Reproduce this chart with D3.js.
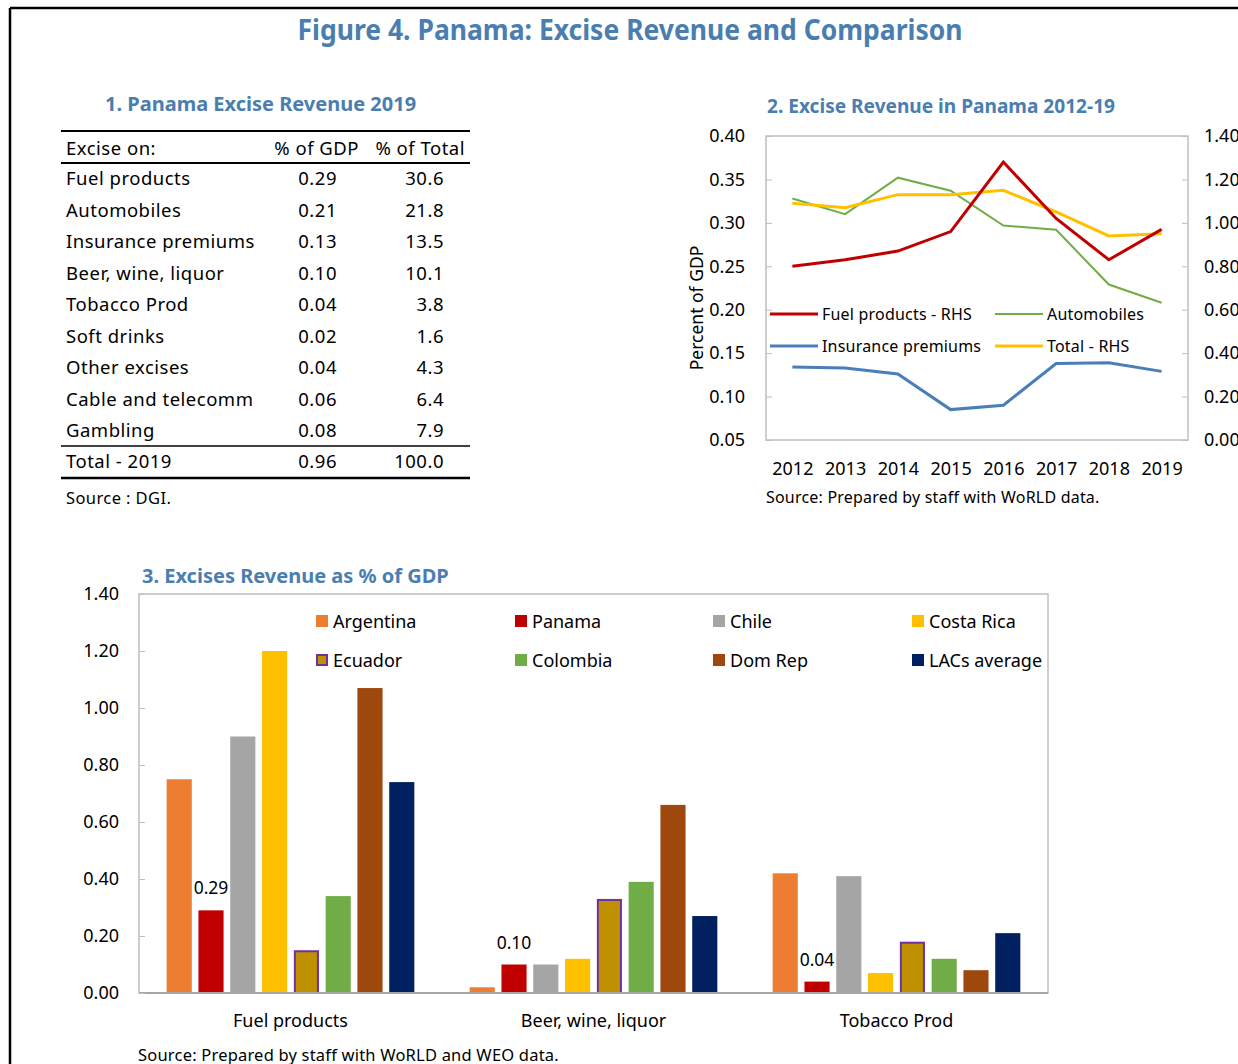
<!DOCTYPE html>
<html>
<head>
<meta charset="utf-8">
<script src="https://cdn.jsdelivr.net/npm/d3@7"></script>
<style>
  html, body { margin: 0; padding: 0; background: #fff; }
  svg { display: block; }
  text { font-family: "Noto Sans", "Open Sans", sans-serif; }
</style>
</head>
<body>
<svg id="chart" width="1238" height="1064"></svg>
<script>
// ---------- DATA ----------
// Panel 1: table
const tableItems = ["Fuel products", "Automobiles", "Insurance premiums", "Beer, wine, liquor",
  "Tobacco Prod", "Soft drinks", "Other excises", "Cable and telecomm", "Gambling"];
const tableGdp   = ["0.29", "0.21", "0.13", "0.10", "0.04", "0.02", "0.04", "0.06", "0.08"];
const tableShare = ["30.6", "21.8", "13.5", "10.1", "3.8", "1.6", "4.3", "6.4", "7.9"];
const tableTotal = ["Total - 2019", "0.96", "100.0"];

// Panel 2: lines 2012-19
const years        = ["2012", "2013", "2014", "2015", "2016", "2017", "2018", "2019"];
const fuelRHS      = [0.80, 0.83, 0.87, 0.96, 1.28, 1.02, 0.83, 0.97];
const automobiles  = [0.328, 0.310, 0.352, 0.337, 0.297, 0.292, 0.229, 0.208];
const insurance    = [0.134, 0.133, 0.126, 0.085, 0.090, 0.138, 0.139, 0.129];
const totalRHS     = [1.09, 1.07, 1.13, 1.13, 1.15, 1.05, 0.94, 0.95];
const leftTicks    = [0.05, 0.10, 0.15, 0.20, 0.25, 0.30, 0.35, 0.40];
const rightTicks   = [0.00, 0.20, 0.40, 0.60, 0.80, 1.00, 1.20, 1.40];

// Panel 3: bars
const barCategories = ["Fuel products", "Beer, wine, liquor", "Tobacco Prod"];
const countries     = ["Argentina", "Panama", "Chile", "Costa Rica", "Ecuador", "Colombia", "Dom Rep", "LACs average"];
const argentina = [0.75, 0.02, 0.42];
const panama    = [0.29, 0.10, 0.04];
const chile     = [0.90, 0.10, 0.41];
const costaRica = [1.20, 0.12, 0.07];
const ecuador   = [0.15, 0.33, 0.18];
const colombia  = [0.34, 0.39, 0.12];
const domRep    = [1.07, 0.66, 0.08];
const lacAvg    = [0.74, 0.27, 0.21];
const barTicks  = [0, 0.2, 0.4, 0.6, 0.8, 1.0, 1.2, 1.4];

// ---------- STYLE ----------
const titleBlue = "#4A7EB0";
const countryColors = ["#ED7D31", "#C00000", "#A5A5A5", "#FFC000", "#BF9000", "#70AD47", "#9E480E", "#002060"];

const svg = d3.select("#chart");

function fitText(sel, target) {
  const node = sel.node();
  const w = node.getComputedTextLength();
  if (w > target) sel.attr("textLength", target).attr("lengthAdjust", "spacingAndGlyphs");
  return sel;
}

// Frame
svg.append("line").attr("x1", 10).attr("y1", 8).attr("x2", 1238).attr("y2", 8).attr("stroke", "#000").attr("stroke-width", 2.5);
svg.append("line").attr("x1", 10).attr("y1", 8).attr("x2", 10).attr("y2", 1064).attr("stroke", "#000").attr("stroke-width", 2.5);

// Main title
fitText(svg.append("text").attr("x", 630).attr("y", 40).attr("text-anchor", "middle")
  .attr("font-size", 28).attr("font-weight", "bold").attr("fill", titleBlue)
  .text("Figure 4. Panama: Excise Revenue and Comparison"), 665);

// ---------- Panel 1: table ----------
const p1 = svg.append("g");
fitText(p1.append("text").attr("x", 105).attr("y", 111).attr("font-size", 20).attr("font-weight", "bold")
  .attr("fill", titleBlue).text("1. Panama Excise Revenue 2019"), 315);

const tx0 = 61, tx1 = 470;
[[131, 2], [163, 2], [446, 1.5], [478, 2.5]].forEach(([y, w]) => {
  p1.append("line").attr("x1", tx0).attr("x2", tx1).attr("y1", y).attr("y2", y)
    .attr("stroke", "#000").attr("stroke-width", w);
});
const fs1 = 18.5, ls1 = 0.5;
const t1 = (x, y, s, anchor) => p1.append("text").attr("x", x).attr("y", y).attr("font-size", fs1)
  .attr("letter-spacing", ls1).attr("text-anchor", anchor || "start").text(s);
t1(66, 155, "Excise on:");
t1(359, 155, "% of GDP", "end");
t1(465, 155, "% of Total", "end");

const rowY = d3.scaleLinear().domain([0, 1]).range([185, 216.5]);
tableItems.forEach((name, i) => {
  const y = rowY(i);
  t1(66, y, name);
  t1(337, y, tableGdp[i], "end");
  t1(444, y, tableShare[i], "end");
});
t1(66, 468, tableTotal[0]);
t1(337, 468, tableTotal[1], "end");
t1(444, 468, tableTotal[2], "end");
p1.append("text").attr("x", 66).attr("y", 504).attr("font-size", 16.5).attr("letter-spacing", 0.4).text("Source : DGI.");

// ---------- Panel 2: line chart ----------
const p2 = svg.append("g");
fitText(p2.append("text").attr("x", 767).attr("y", 113).attr("font-size", 19.5).attr("font-weight", "bold")
  .attr("fill", titleBlue).text("2. Excise Revenue in Panama 2012-19"), 348);

const L = { x0: 766, x1: 1188, y0: 136, y1: 440 };
const xL = d3.scalePoint().domain(years).range([L.x0, L.x1]).padding(0.5);
const yLeft = d3.scaleLinear().domain([0.05, 0.40]).range([L.y1, L.y0]);
const yRight = d3.scaleLinear().domain([0, 1.40]).range([L.y1, L.y0]);

p2.append("rect").attr("x", L.x0).attr("y", L.y0).attr("width", L.x1 - L.x0).attr("height", L.y1 - L.y0)
  .attr("fill", "none").attr("stroke", "#BFBFBF").attr("stroke-width", 1.5);

const axL = p2.append("g").attr("transform", `translate(${L.x0},0)`)
  .call(d3.axisLeft(yLeft).tickValues(leftTicks).tickFormat(d3.format(".2f")).tickSizeInner(-6).tickSizeOuter(0).tickPadding(21));
const axR = p2.append("g").attr("transform", `translate(${L.x1},0)`)
  .call(d3.axisRight(yRight).tickValues(rightTicks).tickFormat(d3.format(".2f")).tickSizeInner(-6).tickSizeOuter(0).tickPadding(16));
const axB = p2.append("g").attr("transform", `translate(0,${L.y1})`)
  .call(d3.axisBottom(xL).tickSize(0).tickPadding(22));
[axL, axR, axB].forEach(a => {
  a.select(".domain").remove();
  a.selectAll(".tick line").attr("stroke", "#BFBFBF");
  a.selectAll("text").attr("font-size", 18).attr("fill", "#000").attr("font-family", '"Noto Sans", sans-serif');
});
axB.selectAll("text").attr("font-size", 18);

p2.append("text").attr("transform", `translate(703,${(L.y0 + L.y1) / 2 + 20}) rotate(-90)`)
  .attr("text-anchor", "middle").attr("font-size", 17.5).text("Percent of GDP");

const lineSeries = [
  { name: "Automobiles", vals: automobiles, scale: yLeft, color: "#70AD47", w: 2 },
  { name: "Insurance premiums", vals: insurance, scale: yLeft, color: "#4A7EBB", w: 3 },
  { name: "Total - RHS", vals: totalRHS, scale: yRight, color: "#FFC000", w: 3 },
  { name: "Fuel products - RHS", vals: fuelRHS, scale: yRight, color: "#C00000", w: 3 }
];
lineSeries.forEach(s => {
  const line = d3.line().x((d, i) => xL(years[i])).y(d => s.scale(d));
  p2.append("path").datum(s.vals).attr("d", line).attr("fill", "none")
    .attr("stroke", s.color).attr("stroke-width", s.w).attr("stroke-linejoin", "miter");
});

// legend
const legL = [
  { name: "Fuel products - RHS", color: "#C00000", w: 3, x: 770, y: 314 },
  { name: "Automobiles", color: "#70AD47", w: 2, x: 995, y: 314 },
  { name: "Insurance premiums", color: "#4A7EBB", w: 3, x: 770, y: 346 },
  { name: "Total - RHS", color: "#FFC000", w: 3, x: 995, y: 346 }
];
legL.forEach(d => {
  p2.append("line").attr("x1", d.x).attr("x2", d.x + 48).attr("y1", d.y).attr("y2", d.y)
    .attr("stroke", d.color).attr("stroke-width", d.w);
  p2.append("text").attr("x", d.x + 52).attr("y", d.y + 6).attr("font-size", 16).attr("letter-spacing", 0.2).text(d.name);
});

p2.append("text").attr("x", 766).attr("y", 503).attr("font-size", 16).attr("letter-spacing", 0.2).text("Source: Prepared by staff with WoRLD data.");

// ---------- Panel 3: grouped bars ----------
const p3 = svg.append("g");
fitText(p3.append("text").attr("x", 142).attr("y", 583).attr("font-size", 20).attr("font-weight", "bold")
  .attr("fill", titleBlue).text("3. Excises Revenue as % of GDP"), 318);

const B = { x0: 139, x1: 1048, y0: 594, y1: 993 };
const x0 = d3.scaleBand().domain(barCategories).range([B.x0, B.x1]).padding(0);
const x1 = d3.scaleBand().domain(countries).range([0, x0.bandwidth()]).paddingInner(0.21).paddingOuter(0.87);
const yB = d3.scaleLinear().domain([0, 1.4]).range([B.y1, B.y0]);

p3.append("rect").attr("x", B.x0).attr("y", B.y0).attr("width", B.x1 - B.x0).attr("height", B.y1 - B.y0)
  .attr("fill", "none").attr("stroke", "#BFBFBF").attr("stroke-width", 1.5);

const seriesVals = [argentina, panama, chile, costaRica, ecuador, colombia, domRep, lacAvg];
barCategories.forEach((cat, ci) => {
  const g = p3.append("g").attr("transform", `translate(${x0(cat)},0)`);
  countries.forEach((c, si) => {
    const v = seriesVals[si][ci];
    const isEc = c === "Ecuador";
    g.append("rect")
      .attr("x", x1(c) + (isEc ? 1 : 0)).attr("y", yB(v) + (isEc ? 1 : 0))
      .attr("width", x1.bandwidth() - (isEc ? 2 : 0)).attr("height", yB(0) - yB(v) - (isEc ? 1 : 0))
      .attr("fill", countryColors[si])
      .attr("stroke", isEc ? "#7030A0" : "none").attr("stroke-width", isEc ? 2 : 0);
  });
  // Panama value label
  const pv = panama[ci];
  g.append("text").attr("x", x1("Panama") + x1.bandwidth() / 2).attr("y", yB(pv) - 16)
    .attr("text-anchor", "middle").attr("font-size", 17.5).text(d3.format(".2f")(pv));
});

// bottom axis line darker
p3.append("line").attr("x1", B.x0).attr("x2", B.x1).attr("y1", B.y1).attr("y2", B.y1)
  .attr("stroke", "#A6A6A6").attr("stroke-width", 2);

const axBL = p3.append("g").attr("transform", `translate(${B.x0},0)`)
  .call(d3.axisLeft(yB).tickValues(barTicks).tickFormat(d3.format(".2f")).tickSizeInner(-6).tickSizeOuter(0).tickPadding(20));
const axBB = p3.append("g").attr("transform", `translate(0,${B.y1})`)
  .call(d3.axisBottom(x0).tickSize(0).tickPadding(21));
[axBL, axBB].forEach(a => {
  a.select(".domain").remove();
  a.selectAll(".tick line").attr("stroke", "#BFBFBF");
  a.selectAll("text").attr("font-size", 18).attr("fill", "#000").attr("font-family", '"Noto Sans", sans-serif');
});

// legend
const legX = [316, 515, 713, 912], legY = [621, 660];
countries.forEach((c, i) => {
  const lx = legX[i % 4], ly = legY[Math.floor(i / 4)];
  const isEc = c === "Ecuador";
  p3.append("rect").attr("x", lx + (isEc ? 1 : 0)).attr("y", ly - 6 + (isEc ? 1 : 0))
    .attr("width", isEc ? 10 : 12).attr("height", isEc ? 10 : 12)
    .attr("fill", countryColors[i]).attr("stroke", isEc ? "#7030A0" : "none").attr("stroke-width", isEc ? 2 : 0);
  p3.append("text").attr("x", lx + 17).attr("y", ly + 6.5).attr("font-size", 18).text(c);
});

p3.append("text").attr("x", 138).attr("y", 1061).attr("font-size", 16.5).attr("letter-spacing", 0.2).text("Source: Prepared by staff with WoRLD and WEO data.");
</script>
</body>
</html>
